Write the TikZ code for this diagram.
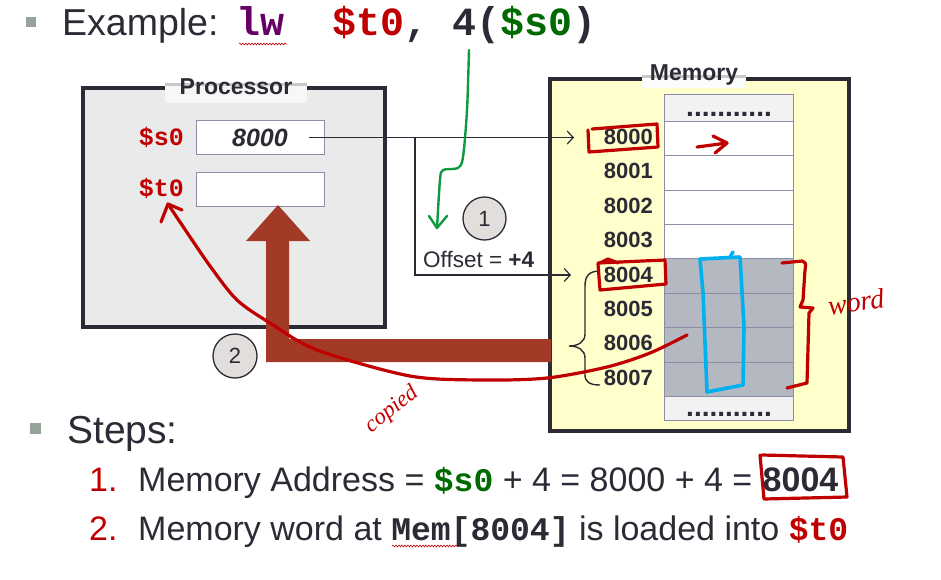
\documentclass[tikz,border=0pt]{standalone}
\usepackage{fontspec}
\setmainfont{Liberation Sans}
\setmonofont{Liberation Mono}
\newfontfamily\handfont{Liberation Serif}
\usetikzlibrary{arrows.meta,decorations.pathmorphing}

\definecolor{ink}{HTML}{2B2A35}
\definecolor{regred}{HTML}{C00000}
\definecolor{reggreen}{HTML}{006A00}
\definecolor{oppurple}{HTML}{660066}
\definecolor{procgray}{HTML}{E9EAEA}
\definecolor{memyellow}{HTML}{FFFFCC}
\definecolor{wordgray}{HTML}{B4B9C1}
\definecolor{dotgray}{HTML}{F2F2F2}
\definecolor{cellline}{HTML}{8C8CA8}
\definecolor{busbrown}{HTML}{A33A27}
\definecolor{pengreen}{HTML}{109A40}
\definecolor{penblue}{HTML}{00B0F0}
\definecolor{bulletgray}{HTML}{96A39A}
\definecolor{circlegray}{HTML}{E2DEDC}
\definecolor{titlebg}{HTML}{F6F8F8}
\definecolor{titleline}{HTML}{C8CACA}

\newcommand{\fsz}[1]{\fontsize{#1}{#1}\selectfont}

\tikzset{
  box/.style={draw=ink,line width=4pt,inner sep=0pt},
  boxtitle/.style={font=\fsz{23}\bfseries,text=ink,inner sep=0pt,anchor=base},
  titlepatch/.style={fill=titlebg,inner sep=0pt},
  reg/.style={draw=cellline,fill=white,minimum width=128pt,minimum height=34pt,inner sep=0pt,font=\fsz{25}\bfseries\itshape,text=ink},
  reglabel/.style={font=\fsz{25}\ttfamily\bfseries,text=regred,inner sep=0pt,anchor=base east},
  cell/.style={draw=cellline,minimum width=129pt,minimum height=34.4pt,inner sep=0pt},
  addr/.style={font=\fsz{22}\bfseries,text=ink,inner sep=0pt,anchor=base east},
  dots/.style={font=\fsz{28}\bfseries,text=ink,inner sep=0pt,anchor=base},
  wire/.style={draw=ink,line width=1.2pt},
  stepcircle/.style={circle,draw=ink,line width=1.3pt,fill=circlegray,inner sep=0pt,font=\fsz{22},text=ink},
  bigtext/.style={anchor=base west,inner sep=0pt,text=ink},
  pen/.style={draw=regred,line width=3.2pt,line cap=round,line join=round},
  squiggle/.style={draw=regred,line width=0.6pt,decorate,decoration={snake,amplitude=0.9pt,segment length=3pt}}
}

\begin{document}
\begin{tikzpicture}[x=1pt,y=-1pt]
  \useasboundingbox (0,0) rectangle (941,579);

  % heading
  \node[fill=bulletgray,minimum size=10pt,inner sep=0pt] at (30.5,22) (bulletA) {};
  \node[bigtext,font=\fsz{37.5}] at (62,35) (example) {Example:};
  \node[bigtext,font=\fsz{40}\ttfamily\bfseries] at (236,35) (instr)
    {\textcolor{oppurple}{lw}\ \ \textcolor{regred}{\$t0}, 4(\textcolor{reggreen}{\$s0})};
  \draw[squiggle] (239,44) -- (287,44);

  % processor
  \node[box,fill=procgray,minimum width=302pt,minimum height=239pt,anchor=north west] at (81,86) (proc) {};
  \node[titlepatch,minimum width=142pt,minimum height=20pt] at (236,93) (procpatch) {};
  \draw[titleline,line width=3pt] ([yshift=-1.5pt]procpatch.north west) -- ([yshift=-1.5pt]procpatch.north east);
  \node[boxtitle] at (236,94) (proctitle) {Processor};

  \node[reg] at (260,137.5) (s0) {8000};
  \node[reg] at (260,189) (t0) {};
  \node[reglabel] at (184,145) (s0lbl) {\$s0};
  \node[reglabel] at (184,196) (t0lbl) {\$t0};

  % memory
  \node[box,fill=memyellow,minimum width=299pt,minimum height=352pt,anchor=north west] at (548,77) (mem) {};
  \node[titlepatch,fill=white!60!titlebg,minimum width=104pt,minimum height=13pt] at (694,81.5) (mempatch) {};
  \draw[titleline,line width=3pt] ([yshift=-1.5pt]mempatch.north west) -- ([yshift=-1.5pt]mempatch.north east);
  \node[boxtitle] at (694,80) (memtitle) {Memory};

  \node[cell,fill=dotgray,minimum height=27pt] at (728.5,107.5) (celltop) {};
  \node[cell,fill=dotgray,minimum height=24pt] at (728.5,408.2) (cellbot) {};
  \node[dots] at (729,116) (dotstop) {...........};
  \node[dots] at (729,416) (dotsbot) {...........};

  \foreach \i in {0,...,7} {
    \pgfmathsetmacro{\cy}{138.2+34.4*\i}
    \ifnum\i<4 \def\cellfill{white}\else \def\cellfill{wordgray}\fi
    \node[cell,fill=\cellfill] at (728.5,\cy) (cell\i) {};
    \node[addr] at (653,\cy+6.3) (addr\i) {800\i};
  }

  % address path
  \coordinate (branch) at (415,137.5);
  \coordinate (in0) at (574,137.5);
  \coordinate (in4) at (571,275);
  \draw[wire,-{Straight Barb[length=6pt,width=13pt]}] ([xshift=-15pt]s0.east) -- (in0);
  \draw[wire,-{Straight Barb[length=6pt,width=13pt]}] (branch) -- (branch |- in4) -- (in4);
  \draw[ink,line width=1.4pt] (600,271) .. controls (589,271) and (585,276) .. (585,286) -- (585,334)
    .. controls (585,342) and (578,346) .. (569,346) .. controls (578,346) and (585,350) .. (585,358)
    -- (585,375) .. controls (585,382) and (590,385) .. (600,385);

  \node[stepcircle,minimum size=43pt] at (484.5,218.5) (one) {1};
  \node[bigtext,font=\fsz{22.5}] at (423,267) (offset) {Offset = \textbf{+4}};

  % load path
  \fill[busbrown] (266,362) -- (266,241) -- (246,241) -- (278,205) -- (310,241) -- (289,241)
    -- (289,339) -- (551,339) -- (551,362) -- cycle;
  \node[stepcircle,minimum size=44pt] at (235,356) (two) {2};

  % steps
  \node[fill=bulletgray,minimum size=11pt,inner sep=0pt] at (35,428) (bulletB) {};
  \node[bigtext,font=\fsz{39}] at (67,443) (steps) {Steps:};
  \node[bigtext,font=\fsz{34},text=regred] at (89,491) (numA) {1.};
  \node[bigtext,font=\fsz{34}] at (138,491) (stepA)
    {Memory Address = \textcolor{reggreen}{\fsz{33}\ttfamily\bfseries\$s0} + 4 = 8000 + 4 =};
  \node[bigtext,font=\fsz{34}\bfseries] at ([xshift=10pt]stepA.base east) (stepAres) {8004};
  \node[bigtext,font=\fsz{34},text=regred] at (89,540) (numB) {2.};
  \node[bigtext,font=\fsz{34}] at (138,540) (stepB)
    {Memory word at {\fsz{33}\ttfamily\bfseries Mem[8004]} is loaded into \textcolor{regred}{\fsz{33}\ttfamily\bfseries\$t0}};
  \draw[squiggle] (392,546) -- (457,546);

  % pen notes
  \draw[pengreen,line width=2.4pt,line cap=round,line join=round] plot[smooth] coordinates
    {(469,50) (467,110) (463,157) (458,168) (443,170) (440,180) (437,228)};
  \draw[pengreen,line width=2.4pt,line cap=round,line join=round] (429,216) -- (437,228) -- (447,216);

  \draw[pen] (592,129) -- (657,124) -- (658,147) -- (589,152) -- (588,130);
  \draw[pen] (697,147) -- (727,143);
  \draw[pen] (713,136) -- (727,143) -- (715,153);
  \draw[pen] (598,263) -- (665,260) -- (666,284) -- (600,290) -- (598,264);
  \draw[pen] (600,263) -- (608,259) -- (618,263);
  \draw[penblue,line width=3.6pt,line cap=round,line join=round]
    (700,259) -- (740,257) -- (744,327) -- (743,385) -- (707,392) -- (703,293) -- cycle;
  \draw[penblue,line width=3.6pt,line cap=round] (730,257) -- (733,252);

  \draw[pen] plot[smooth] coordinates {(168,204) (180,222) (210,266) (237,300) (270,323) (317,350)
    (410,376) (483,380) (547,378) (607,367) (650,353) (687,335)};
  \draw[pen] (161,222) -- (168,204) -- (182,210);
  \node[rotate=38,font=\fsz{23}\handfont\itshape,text=regred,inner sep=0pt] at (392,410) (copied) {copied};

  \draw[pen] (782,263) -- (802,261) .. controls (806,263) .. (805,270) -- (803,300) -- (800,307)
    -- (813,308) -- (809,313) -- (807,383) -- (787,388);
  \node[rotate=8,font=\fsz{28}\handfont\itshape,text=regred,inner sep=0pt] at (856,302) (wordnote) {word};
  \draw[pen] (762,455) -- (843,457) -- (847,497) -- (764,499) -- (760,455);
\end{tikzpicture}
\end{document}
